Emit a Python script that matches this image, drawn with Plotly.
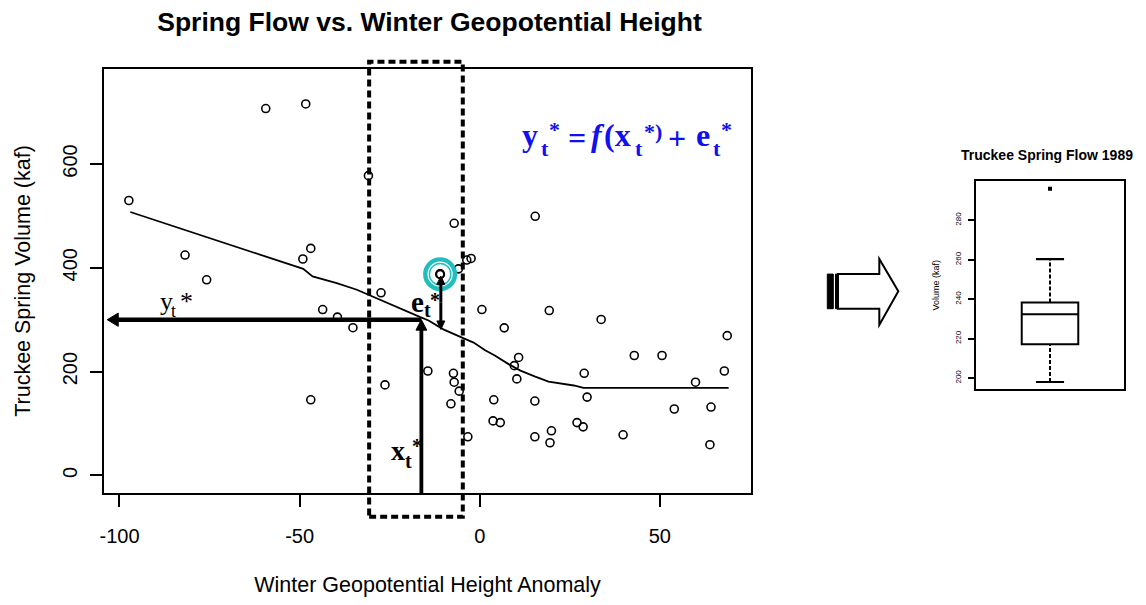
import plotly.graph_objects as go

# ---------------- data ----------------
flow_x = [-97.4, -81.8, -75.8, -59.4, -48.3, -46.9, -49.1, -46.9, -43.6, -39.5,
          -35.2, -30.9, -27.4, -26.3, -14.4, -11.0, -7.1, -5.9, -3.6, -2.4,
          -7.3, -7.1, -5.7, -8.0, -3.3, 0.6, 6.8, 15.4, 19.3, 33.7,
          10.8, 9.6, 10.3, 3.9, 15.3, 3.7, 5.7, 15.3, 19.9, 19.5,
          27.0, 28.7, 29.0, 29.8, 39.8, 42.9, 50.6, 54.0, 59.9, 64.2,
          63.9, 67.9, 68.7]
flow_y = [529.7, 424.6, 376.9, 706.8, 715.7, 437.4, 417.0, 145.8, 319.6, 305.0,
          284.6, 577.5, 351.9, 174.4, 201.2, 387.8, 485.8, 398.0, 415.0, 418.0,
          196.8, 179.6, 162.4, 138.1, 74.5, 319.6, 284.3, 499.2, 317.7, 300.5,
          227.3, 211.5, 186.0, 145.8, 143.3, 105.1, 101.8, 74.5, 86.0, 63.0,
          101.8, 93.6, 196.8, 150.9, 78.3, 231.1, 231.1, 128.0, 179.6, 131.8,
          59.2, 201.2, 269.3]

fit_x = [-97.0, -73.0, -49.0, -46.4, -39.7, -34.1, -30.9, -23.9, -16.5, -14.2,
         -10.1, -4.9, -1.7, 1.5, 4.3, 8.0, 11.3, 15.4, 19.1, 26.1, 28.8, 69.1]
fit_y = [507.5, 453.3, 398.0, 383.4, 370.6, 357.8, 348.2, 326.0, 305.0, 298.6,
         281.4, 265.5, 256.0, 241.3, 230.6, 214.5, 201.9, 190.4, 180.9, 173.3, 168.7, 168.7]

highlight_x = [-11.0]
highlight_y = [387.8]

x_star = -16.2          # chosen predictor value
y_star = 300.0          # fitted value f(x*)
e_point = 384.0         # residual arrow tip (observed)
e_base = 281.4          # residual arrow base (on the curve)
x_tail = -40.0
y_tip = -103.4
e_x = -10.8

window_x = [-30.7, -4.7]   # dashed neighbourhood window

x_ticks = [-100, -50, 0, 50]
x_tick_text = ["-100", "-50", "0", "50"]
y_ticks = [0, 200, 400, 600]
y_tick_text = ["0", "200", "400", "600"]

# ensemble boxplot (1989)
box_low, box_q1, box_med, box_q3, box_high = 198.0, 217.1, 232.3, 238.3, 260.3
box_out = [296.0]
box_ticks = [200, 220, 240, 260, 280]

# ---------------- geometry helpers ----------------
W, H = 1146, 605
ML, MR, MT, MB = 104, 22, 69, 108
PW, PH = W - ML - MR, H - MT - MB
XR = [-104.3, 75.3]
YR = [-33.8, 783.0]
X_DOM = [0, (751 - ML) / PW]
SX = (X_DOM[1] - X_DOM[0]) * PW / (XR[1] - XR[0])   # px per x unit
SY = PH / (YR[1] - YR[0])                          # px per y unit


def pp(px, py):
    return (px - ML) / PW, (H - MB - py) / PH


SANS = "Liberation Sans, Arial, sans-serif"
SERIF = "Liberation Serif, Times New Roman, serif"

fig = go.Figure()

# scatter points
fig.add_trace(go.Scatter(
    x=flow_x, y=flow_y, mode="markers",
    marker=dict(symbol="circle-open", size=8, color="black", line=dict(width=1.6, color="black")),
    xaxis="x", yaxis="y", hoverinfo="x+y"))

# local fit line
fig.add_trace(go.Scatter(
    x=fit_x, y=fit_y, mode="lines", line=dict(color="black", width=1.8),
    xaxis="x", yaxis="y", hoverinfo="skip"))

# highlighted point ring
fig.add_trace(go.Scatter(
    x=highlight_x, y=highlight_y, mode="markers",
    marker=dict(symbol="circle-open", size=27, color="#22BDBD", line=dict(width=7, color="#22BDBD")),
    xaxis="x", yaxis="y", hoverinfo="skip"))
fig.add_trace(go.Scatter(
    x=highlight_x, y=highlight_y, mode="markers",
    marker=dict(symbol="circle-open", size=24, color="white", line=dict(width=1.2, color="white")),
    xaxis="x", yaxis="y", hoverinfo="skip"))
fig.add_trace(go.Scatter(
    x=highlight_x, y=highlight_y, mode="markers",
    marker=dict(symbol="circle-open", size=8, color="black", line=dict(width=2.2, color="black")),
    xaxis="x", yaxis="y", hoverinfo="skip"))

# boxplot
fig.add_trace(go.Box(
    x=[1], q1=[box_q1], median=[box_med], q3=[box_q3],
    lowerfence=[box_q1], upperfence=[box_q3], width=0.382,
    line=dict(color="black", width=2), fillcolor="white", boxpoints=False,
    xaxis="x2", yaxis="y2", hoverinfo="skip"))
fig.add_trace(go.Scatter(x=[1, 1], y=[box_q3, box_high], mode="lines",
                         line=dict(color="black", width=2, dash="4px,2px"),
                         xaxis="x2", yaxis="y2", hoverinfo="skip"))
fig.add_trace(go.Scatter(x=[1, 1], y=[box_low, box_q1], mode="lines",
                         line=dict(color="black", width=2, dash="4px,2px"),
                         xaxis="x2", yaxis="y2", hoverinfo="skip"))
cap = 0.095
for v in (box_low, box_high):
    fig.add_trace(go.Scatter(x=[1 - cap, 1 + cap], y=[v, v], mode="lines",
                             line=dict(color="black", width=2.2),
                             xaxis="x2", yaxis="y2", hoverinfo="skip"))
fig.add_trace(go.Scatter(x=[1] * len(box_out), y=box_out, mode="markers",
                         marker=dict(symbol="square", size=4, color="black"),
                         xaxis="x2", yaxis="y2", hoverinfo="skip"))

shapes = []
# dashed window
y0p = pp(0, 521)[1]
y1p = pp(0, 61.7)[1]
shapes.append(dict(type="rect", xref="x", yref="paper", x0=window_x[0], x1=window_x[1],
                   y0=y0p, y1=y1p, line=dict(color="black", width=4, dash="7px,4px"),
                   fillcolor="rgba(0,0,0,0)"))


# arrows drawn in data space (shaft + triangular head)
def arrow(x0, y0, x1, y1, width, head_len, head_half):
    """arrow from (x0,y0) to tip (x1,y1); head sizes in px"""
    dxp = (x1 - x0) * SX
    dyp = (y1 - y0) * SY
    L = (dxp ** 2 + dyp ** 2) ** 0.5
    ux, uy = dxp / L, dyp / L
    bx_, by_ = -ux * head_len, -uy * head_len
    nx, ny = -uy * head_half, ux * head_half
    base_x = x1 + bx_ / SX
    base_y = y1 + by_ / SY
    shapes.append(dict(type="line", xref="x", yref="y", x0=x0, y0=y0,
                       x1=x1 + (bx_ * 0.6) / SX, y1=y1 + (by_ * 0.6) / SY,
                       line=dict(color="black", width=width)))
    p1 = (base_x + nx / SX, base_y + ny / SY)
    p2 = (base_x - nx / SX, base_y - ny / SY)
    path = f"M {x1},{y1} L {p1[0]},{p1[1]} L {p2[0]},{p2[1]} Z"
    shapes.append(dict(type="path", xref="x", yref="y", path=path,
                       line=dict(color="black", width=1), fillcolor="black"))


arrow(x_star, y_star, y_tip, y_star, 4.5, 11, 6.7)          # y_t* horizontal
arrow(x_star, x_tail, x_star, y_star, 3.8, 10.5, 5.4)       # x_t* vertical
arrow(e_x, (e_base + e_point) / 2, e_x, e_point, 3, 8.5, 4)  # residual, up
arrow(e_x, (e_base + e_point) / 2, e_x, e_base, 3, 8.5, 4)   # residual, down

# block arrow between panels
pts = [(838, 276), (879.3, 276), (879.3, 260.7), (898.3, 293.3), (879.3, 327.3), (879.3, 311), (838, 311)]
path = "M " + " L ".join(f"{pp(a, b)[0]:.5f},{pp(a, b)[1]:.5f}" for a, b in pts) + " Z"
shapes.append(dict(type="path", xref="paper", yref="paper", path=path,
                   line=dict(color="black", width=2), fillcolor="white"))
for (xa, xb) in [(827.3, 833.3), (835.5, 838.3)]:
    p0 = pp(xa, 311)
    p1 = pp(xb, 276)
    shapes.append(dict(type="rect", xref="paper", yref="paper", x0=p0[0], x1=p1[0], y0=p0[1], y1=p1[1],
                       line=dict(color="black", width=1), fillcolor="black"))

annotations = []


def label(s, px_left, base_py, size, bold=False, italic=False, color="black"):
    cy = base_py - 0.3375 * size
    xp, yp = pp(px_left - 1, cy)
    annotations.append(dict(x=xp, y=yp, xref="paper", yref="paper", xanchor="left", yanchor="middle",
                            showarrow=False, text=s,
                            font=dict(family=SERIF, size=size, color=color,
                                      weight="bold" if bold else "normal",
                                      style="italic" if italic else "normal")))


# y_t*  (regular)
label("y", 159, 312.5, 26)
label("t", 169.5, 319.5, 18)
label("*", 179, 312.5, 26)
# e_t*  (bold)
label("e", 410, 314, 29, bold=True)
label("t", 422.5, 319, 20, bold=True)
label("*", 429, 309, 20, bold=True)
# x_t*  (bold)
label("x", 389.5, 463.5, 28, bold=True)
label("t", 403.5, 471.7, 20, bold=True)
label("*", 410.5, 456.5, 20, bold=True)
# equation (bold blue)
BLUE = "#1010F0"
label("y", 521, 146.5, 32, bold=True, color=BLUE)
label("t", 539.5, 156.5, 22, bold=True, color=BLUE)
label("*", 548, 138, 22, bold=True, color=BLUE)
label("=", 567, 149, 32, bold=True, color=BLUE)
label("f", 590, 146.5, 32, bold=True, italic=True, color=BLUE)
label("(x", 603, 146.5, 32, bold=True, color=BLUE)
label("t", 633.5, 156.5, 22, bold=True, color=BLUE)
label("*)", 642.5, 140, 22, bold=True, color=BLUE)
label("+", 667, 149, 32, bold=True, color=BLUE)
label("e", 695, 146.5, 32, bold=True, color=BLUE)
label("t", 711.5, 156.5, 22, bold=True, color=BLUE)
label("*", 720, 138, 22, bold=True, color=BLUE)

# box panel title
bx, by = pp(1047, 156)
annotations.append(dict(x=bx, y=by, xref="paper", yref="paper", showarrow=False,
                        xanchor="center", yanchor="middle",
                        text="Truckee Spring Flow 1989",
                        font=dict(family=SANS, size=14, color="black", weight="bold")))

fig.update_layout(
    width=W, height=H, autosize=False,
    margin=dict(l=ML, r=MR, t=MT, b=MB, pad=0),
    paper_bgcolor="white", plot_bgcolor="white", showlegend=False,
    font=dict(family=SANS, color="black", size=12),
    title=dict(text="Spring Flow vs. Winter Geopotential Height",
               x=429.5 / W, xref="container", xanchor="center",
               y=1 - 22 / H, yref="container", yanchor="middle",
               font=dict(family=SANS, size=26.5, color="black", weight="bold")),
    xaxis=dict(domain=X_DOM, range=XR,
               tickmode="array", tickvals=x_ticks, ticktext=x_tick_text,
               ticks="outside", ticklen=12, tickwidth=2, tickcolor="black",
               showline=True, linewidth=2, linecolor="black", mirror=True,
               showgrid=False, zeroline=False, tickfont=dict(size=20),
               ticklabelstandoff=12,
               title=dict(text="Winter Geopotential Height Anomaly", font=dict(size=21.5), standoff=31),
               anchor="y"),
    yaxis=dict(domain=[0, 1], range=YR,
               tickmode="array", tickvals=y_ticks, ticktext=y_tick_text,
               ticks="outside", ticklen=12, tickwidth=2, tickcolor="black", tickangle=-90,
               showline=True, linewidth=2, linecolor="black", mirror=True,
               showgrid=False, zeroline=False, tickfont=dict(size=20),
               ticklabelstandoff=5,
               title=dict(text="Truckee Spring Volume (kaf)", font=dict(size=21.5), standoff=22),
               anchor="x"),
    xaxis2=dict(domain=[(976 - ML) / PW, (1124 - ML) / PW], range=[0.5, 1.5],
                showline=True, linewidth=2, linecolor="black", mirror=True,
                showgrid=False, zeroline=False, showticklabels=False, ticks="", anchor="y2"),
    yaxis2=dict(domain=[(H - MB - 392.3) / PH, (H - MB - 182.3) / PH], range=[194.3, 299.8],
                tickvals=box_ticks, ticks="outside", ticklen=6, tickwidth=2, tickcolor="black",
                tickangle=-90, showline=True, linewidth=2, linecolor="black", mirror=True,
                showgrid=False, zeroline=False, tickfont=dict(size=8), ticklabelstandoff=4,
                title=dict(text="Volume (kaf)", font=dict(size=9), standoff=13),
                anchor="x2"),
    shapes=shapes, annotations=annotations,
)

fig.write_html("out.html")
